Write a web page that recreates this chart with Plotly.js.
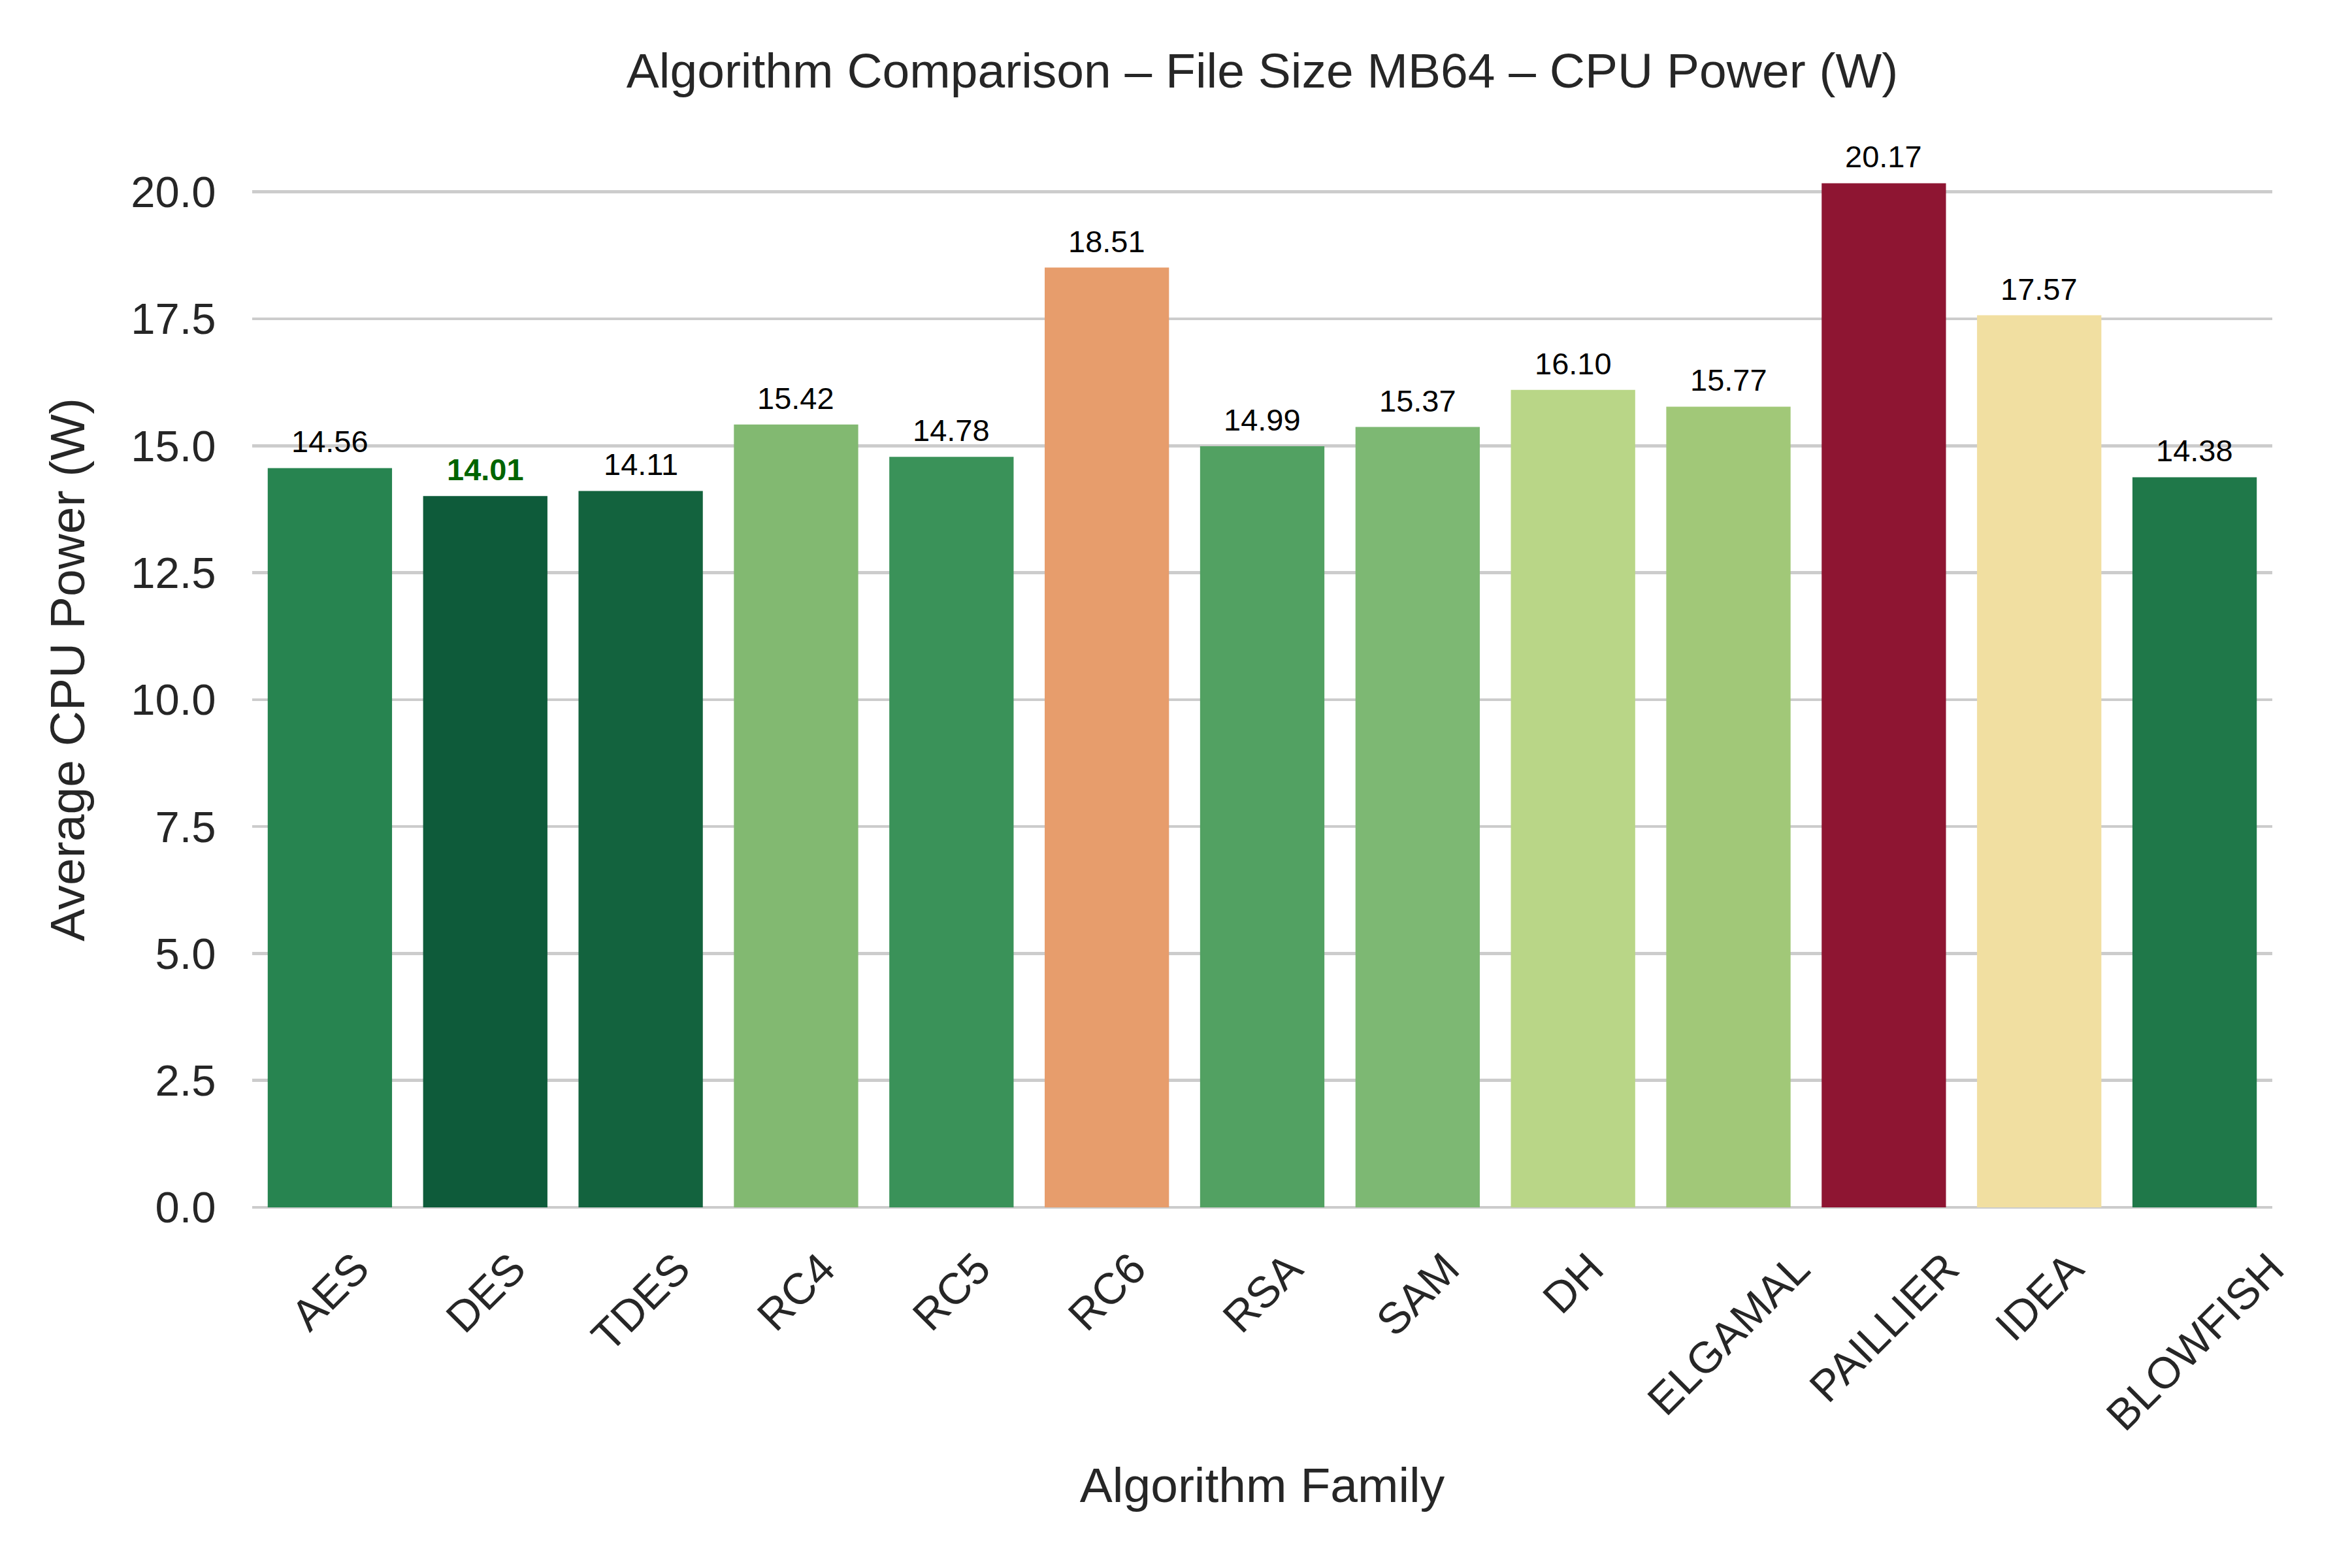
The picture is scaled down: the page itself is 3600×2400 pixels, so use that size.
<!DOCTYPE html>
<html>
<head>
<meta charset="utf-8">
<script src="https://cdn.plot.ly/plotly-3.0.1.min.js"></script>
<style>html,body{margin:0;padding:0;background:#fff;}#chart{width:3600px;height:2400px;}</style>
</head>
<body>
<div id="chart"></div>
<script>
const categories = ["AES","DES","TDES","RC4","RC5","RC6","RSA","SAM","DH","ELGAMAL","PAILLIER","IDEA","BLOWFISH"];
const cpuPower = [14.56,14.01,14.11,15.42,14.78,18.51,14.99,15.37,16.10,15.77,20.17,17.57,14.38];
const barColors = ["#278450","#0e5b3a","#13633e","#82b971","#3a9259","#e79d6c","#52a162","#7db873","#b9d687","#a1c878","#8e1532","#f1dfa1","#1f7849"];
const yTickVals = [0,2.5,5,7.5,10,12.5,15,17.5,20];
const yTickText = ["0.0","2.5","5.0","7.5","10.0","12.5","15.0","17.5","20.0"];

const FONT = "Liberation Sans, Arial, Helvetica, sans-serif";
const TXT = "#262626";
const minVal = Math.min(...cpuPower);

const trace = {
  type: "bar",
  x: categories,
  y: cpuPower,
  marker: {color: barColors, line: {width: 0}},
  width: 0.8,
  hoverinfo: "x+y"
};

const annotations = [];
categories.forEach((c, i) => {
  const isMin = cpuPower[i] === minVal;
  annotations.push({
    x: c, y: cpuPower[i], xref: "x", yref: "y",
    text: isMin ? "<b>" + cpuPower[i].toFixed(2) + "</b>" : cpuPower[i].toFixed(2),
    showarrow: false, xanchor: "center", yanchor: "bottom", yshift: 12,
    font: {family: FONT, size: 47, color: isMin ? "#006400" : "#000000"}
  });
  annotations.push({
    x: c, y: 0, xref: "x", yref: "paper",
    text: c, showarrow: false, textangle: -45,
    xanchor: "center", yanchor: "top", yshift: -52,
    font: {family: FONT, size: 67, color: TXT}
  });
});

const layout = {
  width: 3600, height: 2400,
  paper_bgcolor: "#ffffff", plot_bgcolor: "#ffffff",
  margin: {l: 386, r: 122, t: 202, b: 552},
  font: {family: FONT, color: TXT},
  title: {text: "Algorithm Comparison – File Size MB64 – CPU Power (W)",
          font: {family: FONT, size: 75, color: TXT},
          x: 0.5, xref: "paper", xanchor: "center", y: 1 - 108/2400, yanchor: "middle"},
  showlegend: false,
  xaxis: {
    type: "category", range: [-0.5, 12.5],
    showgrid: false, zeroline: false, showline: false,
    showticklabels: false, ticks: "",
    title: {text: "Algorithm Family", font: {family: FONT, size: 75, color: TXT}, standoff: 398}
  },
  yaxis: {
    range: [0, 21.18],
    tickvals: yTickVals, ticktext: yTickText,
    tickfont: {family: FONT, size: 67, color: TXT},
    showgrid: true, gridcolor: "#cccccc", gridwidth: 4.5,
    zeroline: true, zerolinecolor: "#cccccc", zerolinewidth: 4.5,
    showline: false,
    ticks: "outside", ticklen: 41, tickcolor: "rgba(0,0,0,0)",
    title: {text: "Average CPU Power (W)", font: {family: FONT, size: 75, color: TXT}, standoff: 45}
  },
  annotations: annotations
};

Plotly.newPlot("chart", [trace], layout, {displayModeBar: false, staticPlot: true});
</script>
</body>
</html>
